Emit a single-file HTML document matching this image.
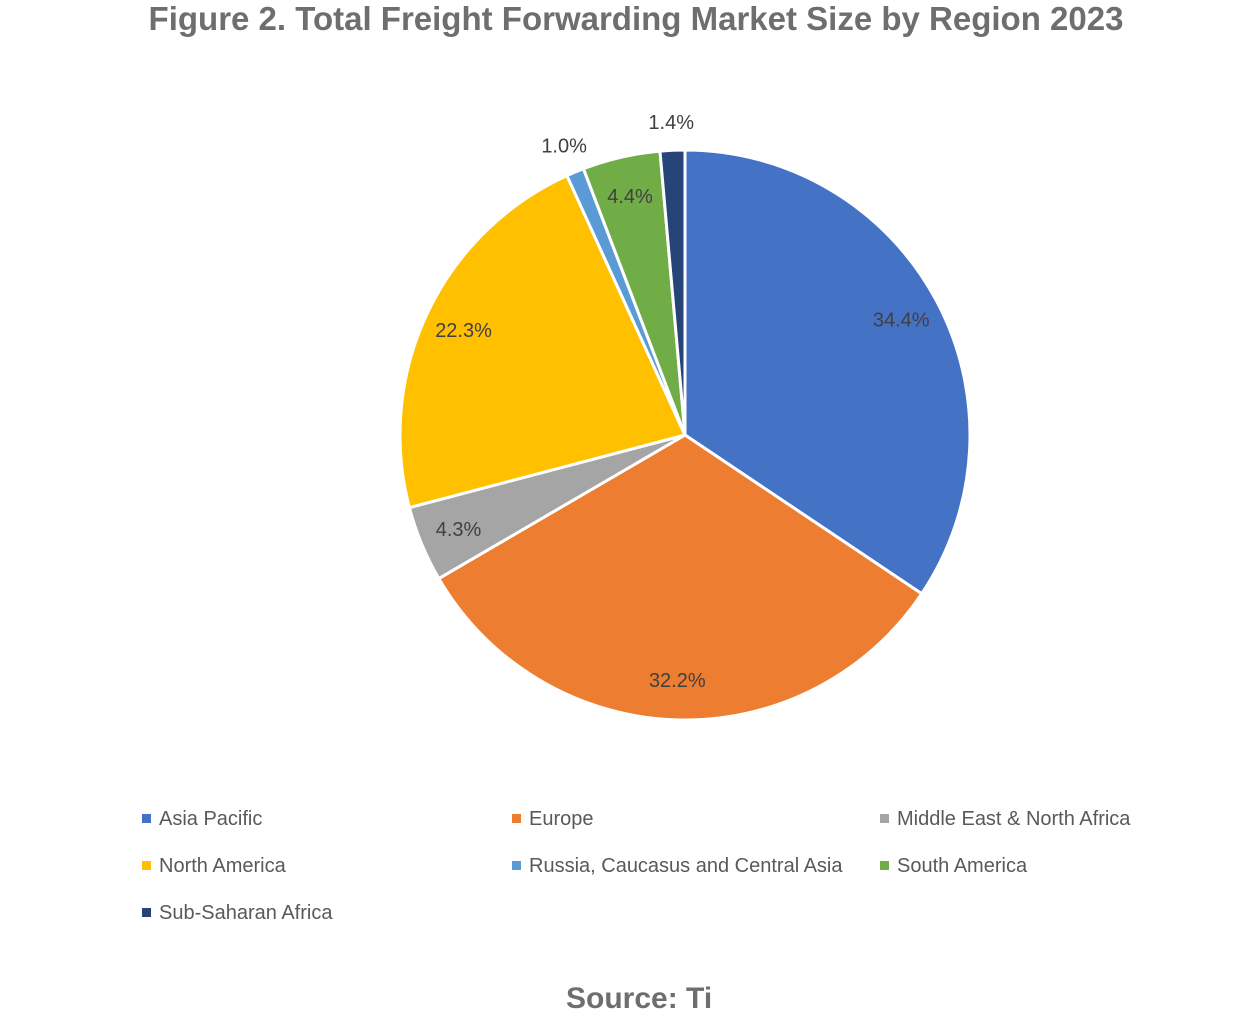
<!DOCTYPE html>
<html><head><meta charset="utf-8"><style>
body{margin:0;width:1244px;height:996px;overflow:hidden;background:#fff;font-family:"Liberation Sans",sans-serif;}
.title{position:absolute;left:0;width:1272px;top:0;text-align:center;font-weight:bold;font-size:33px;color:#6d6e70;}
.leg{position:absolute;font-size:20px;color:#595959;white-space:nowrap}
.leg i{display:inline-block;width:9px;height:9px;margin-right:8px;vertical-align:2px}
.src{position:absolute;top:982px;left:566px;font-size:30px;color:#6d6e70;font-weight:bold}
</style></head><body>
<div class="title">Figure 2. Total Freight Forwarding Market Size by Region 2023</div>
<svg width="1244" height="996" style="position:absolute;left:0;top:0"><g id="pie"></g></svg>
<div id="legend"></div>
<div class="src">Source: Ti</div>
<script>
const categories=["Asia Pacific","Europe","Middle East & North Africa","North America","Russia, Caucasus and Central Asia","South America","Sub-Saharan Africa"];
const values=[34.4,32.2,4.3,22.3,1.0,4.4,1.4];
const colors=["#4472c4","#ed7d31","#a5a5a5","#ffc000","#5b9bd5","#70ad47","#264478"];
const cx=685,cy=435,R=285;
const g=document.getElementById('pie');const ns="http://www.w3.org/2000/svg";
const total=values.reduce((a,b)=>a+b,0);
let acc=0;
function pt(f,r){const a=f*2*Math.PI;return [cx+r*Math.sin(a),cy-r*Math.cos(a)];}
values.forEach((v,i)=>{
 const s=acc/total,e=(acc+v)/total;acc+=v;
 const p1=pt(s,R),p2=pt(e,R);
 const path=document.createElementNS(ns,'path');
 path.setAttribute('d',`M${cx},${cy}L${p1[0]},${p1[1]}A${R},${R} 0 ${e-s>0.5?1:0} 1 ${p2[0]},${p2[1]}Z`);
 path.setAttribute('fill',colors[i]);path.setAttribute('stroke','#fff');path.setAttribute('stroke-width','3');
 
 
 g.appendChild(path);
 const m=(s+e)/2;const lp=pt(m,v<2?R*1.1:R*0.86);
 const t=document.createElementNS(ns,'text');
 t.setAttribute('x',lp[0]);t.setAttribute('y',lp[1]+7);t.setAttribute('text-anchor','middle');
 t.setAttribute('font-size','20');t.setAttribute('fill','#404040');t.setAttribute('font-family','Liberation Sans, sans-serif');
 t.textContent=v.toFixed(1)+'%';
 
 
 g.appendChild(t);
});
const lx=[142,512,880],ly=[808,855,902];
const L=document.getElementById('legend');
categories.forEach((c,i)=>{
 const d=document.createElement('div');d.className='leg';
 d.style.left=lx[i%3]+'px';d.style.top=ly[Math.floor(i/3)]+'px';
 d.innerHTML=`<i style="background:${colors[i]}"></i>`+c.replace('&','&amp;');
 
 
 L.appendChild(d);
});
</script>
</body></html>
